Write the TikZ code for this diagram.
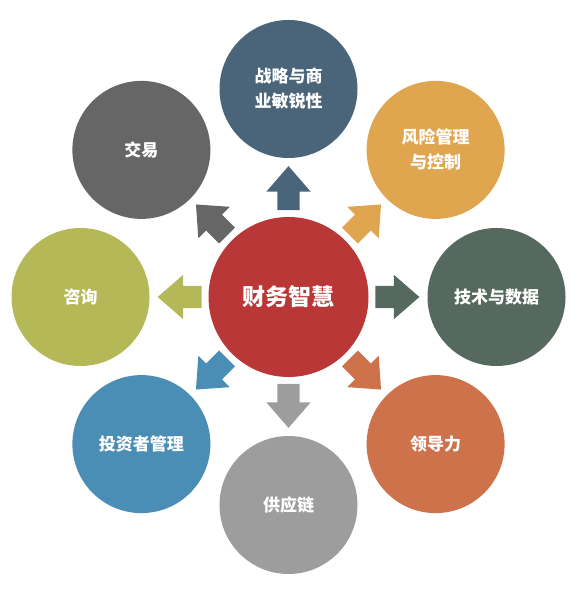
\documentclass[tikz,border=0pt]{standalone}
\usepackage{fontspec}
\newfontfamily\cjk{Noto Sans CJK SC}
\usepackage{tikz}
\usetikzlibrary{shapes.arrows}
\definecolor{hub}{HTML}{BA3737}
\definecolor{strat}{HTML}{4A6479}
\definecolor{risk}{HTML}{DFA54F}
\definecolor{tech}{HTML}{56695E}
\definecolor{lead}{HTML}{CD724A}
\definecolor{supp}{HTML}{9D9D9D}
\definecolor{inv}{HTML}{4A8DB5}
\definecolor{cons}{HTML}{B5B856}
\definecolor{trade}{HTML}{666666}
\tikzset{
  ring/.style={circle,minimum size=138pt,inner sep=0pt,outer sep=0pt,
    text=white,align=center,font=\cjk\bfseries\fontsize{17}{25}\selectfont},
  hubring/.style={circle,minimum size=160pt,inner sep=0pt,outer sep=0pt,
    fill=hub,text=white,font=\cjk\bfseries\fontsize{23}{26}\selectfont},
  fat/.style={single arrow,inner sep=11pt,outer sep=0pt,minimum height=44pt,
    single arrow head extend=11pt,single arrow tip angle=82,
    sloped,allow upside down,pos=.38}
}

\begin{document}
\begin{tikzpicture}[x=1pt,y=1pt]
    \useasboundingbox (0,0) rectangle (577,594);
    \node[hubring] (c) at (288.5,297) {财务智慧};
    \node[ring,fill=strat] (n1) at (288.5,505) {战略与商\\业敏锐性};
    \node[ring,fill=risk] (n2) at (435.6,444.1) {风险管理\\与控制};
    \node[ring,fill=tech] (n3) at (496.5,297) {技术与数据};
    \node[ring,fill=lead] (n4) at (435.6,149.9) {领导力};
    \node[ring,fill=supp] (n5) at (288.5,89) {供应链};
    \node[ring,fill=inv] (n6) at (141.4,149.9) {投资者管理};
    \node[ring,fill=cons] (n7) at (80.5,297) {咨询};
    \node[ring,fill=trade] (n8) at (141.4,444.1) {交易};
    \path (c) -- (n1) node[fat,fill=strat] (a1) {};
    \path (c) -- (n2) node[fat,fill=risk] (a2) {};
    \path (c) -- (n3) node[fat,fill=tech] (a3) {};
    \path (c) -- (n4) node[fat,fill=lead] (a4) {};
    \path (c) -- (n5) node[fat,fill=supp] (a5) {};
    \path (c) -- (n6) node[fat,fill=inv] (a6) {};
    \path (c) -- (n7) node[fat,fill=cons] (a7) {};
    \path (c) -- (n8) node[fat,fill=trade] (a8) {};
\end{tikzpicture}
\end{document}
